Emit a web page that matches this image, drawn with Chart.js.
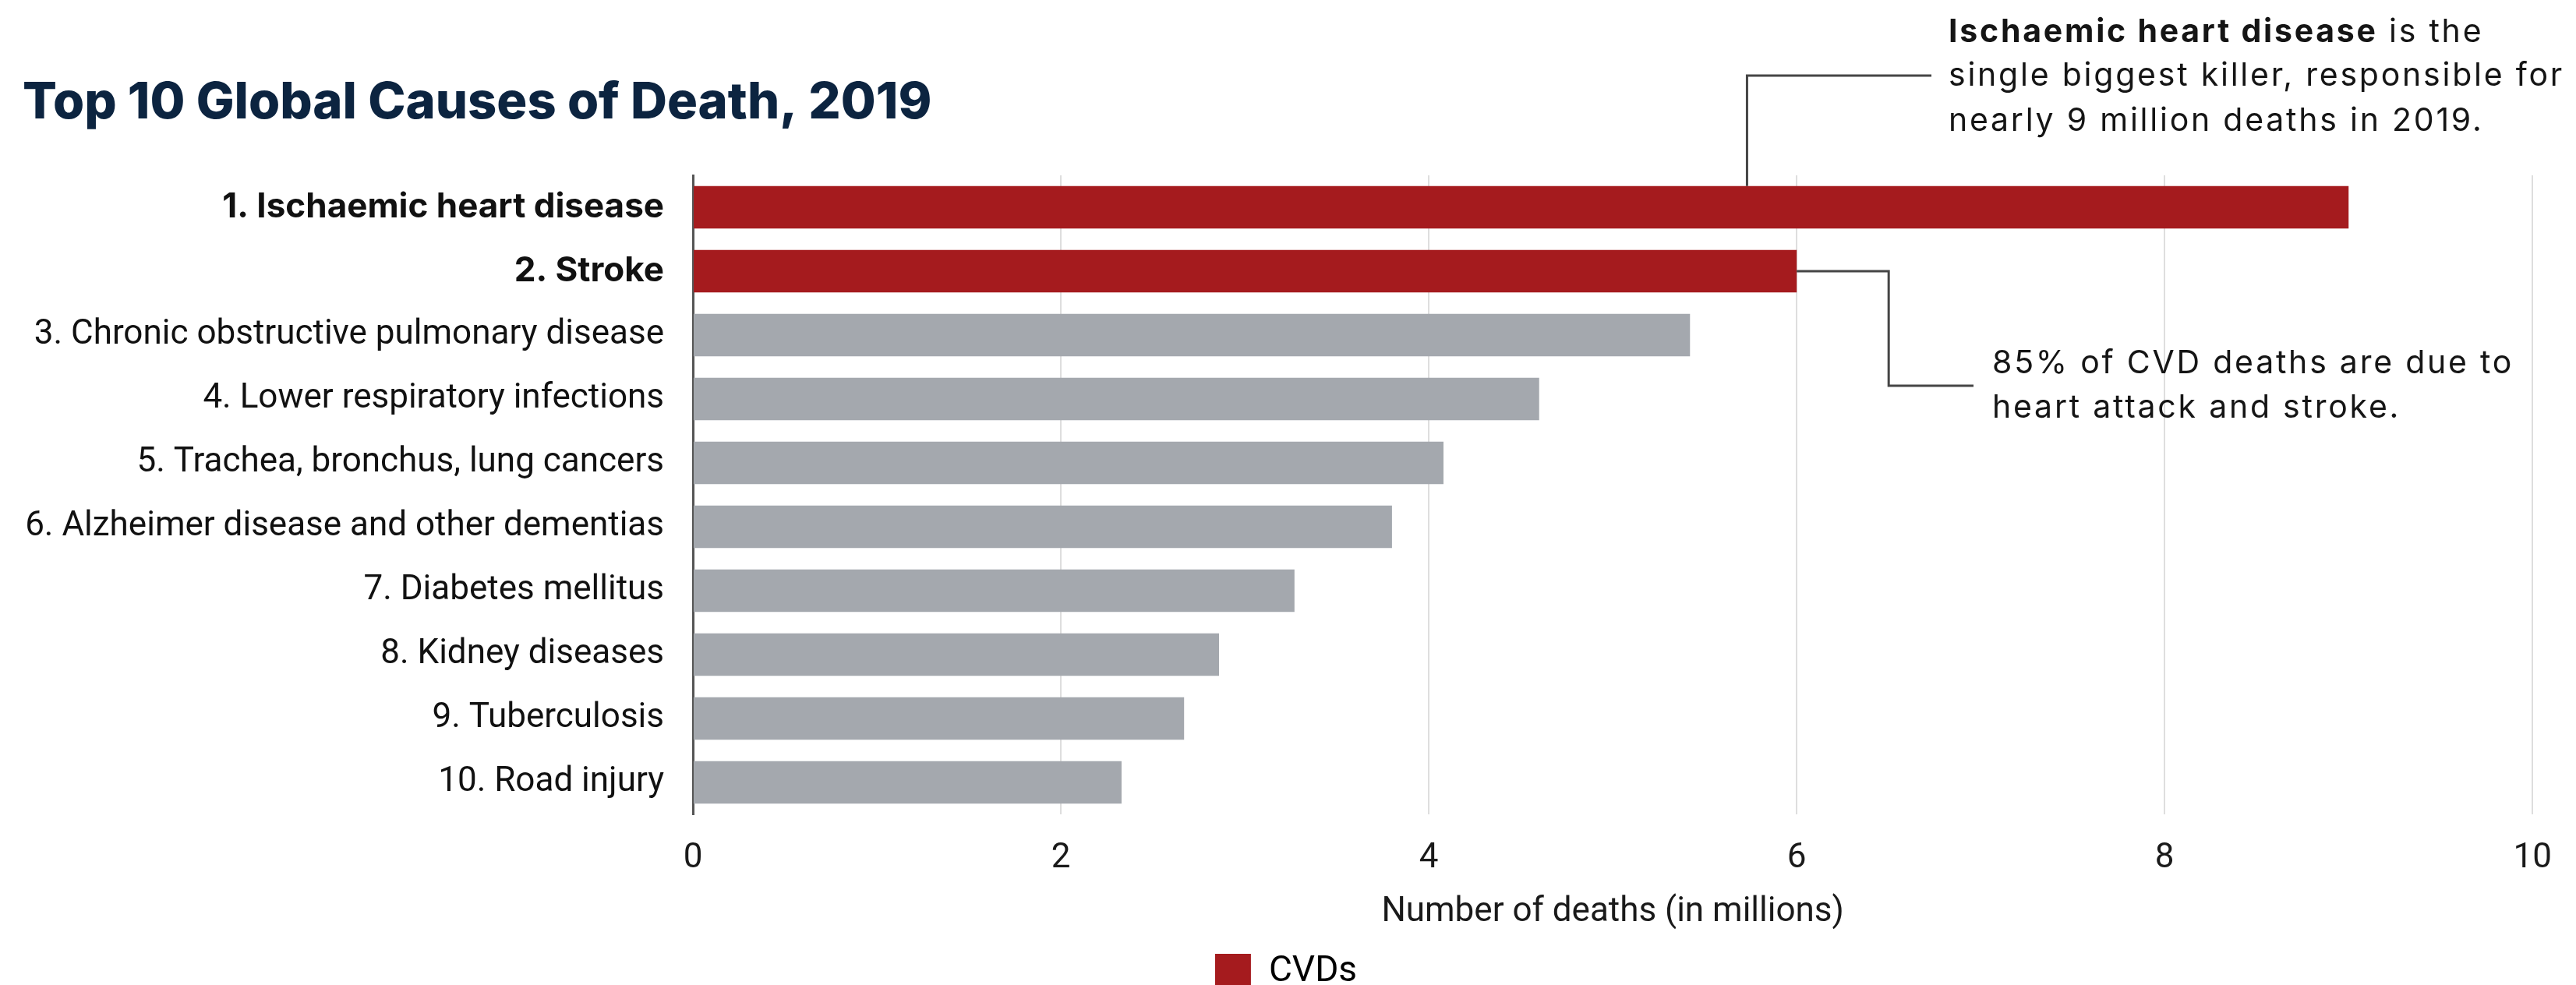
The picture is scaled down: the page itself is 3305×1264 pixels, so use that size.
<!DOCTYPE html>
<html>
<head>
<meta charset="utf-8">
<script src="https://cdn.jsdelivr.net/npm/chart.js@4.4.1/dist/chart.umd.min.js"></script>
<style>
  html, body { margin: 0; padding: 0; background: #fff; overflow: hidden; }
  #wrap { position: relative; width: 3305px; height: 1280px; }
</style>
</head>
<body>
<div id="wrap"><canvas id="chart"></canvas></div>
<script>
// Top 10 global causes of death, 2019 (millions of deaths)
const causes = [
  '1. Ischaemic heart disease',
  '2. Stroke',
  '3. Chronic obstructive pulmonary disease',
  '4. Lower respiratory infections',
  '5. Trachea, bronchus, lung cancers',
  '6. Alzheimer disease and other dementias',
  '7. Diabetes mellitus',
  '8. Kidney diseases',
  '9. Tuberculosis',
  '10. Road injury',
];
const deaths = [9.0, 6.0, 5.42, 4.6, 4.08, 3.8, 3.27, 2.86, 2.67, 2.33];
const isCvd  = [true, true, false, false, false, false, false, false, false, false];
const xTicks = [0, 2, 4, 6, 8, 10];

const RED  = '#a51b1e';
const GREY = '#a4a8ae';

const noteIhd = ['Ischaemic heart disease', ' is the', 'single biggest killer, responsible for', 'nearly 9 million deaths in 2019.'];
const noteCvd = ['85% of CVD deaths are due to', 'heart attack and stroke.'];

// leader lines + callout text, anchored to the bars
const annotations = {
  id: 'annotations',
  afterDraw(chart) {
    const { ctx } = chart;
    const x = chart.scales.x;
    const meta = chart.getDatasetMeta(0);
    const b1 = meta.data[0];
    const b2 = meta.data[1];
    ctx.save();
    ctx.strokeStyle = '#454545';
    ctx.lineWidth = 3;

    // callout 1: up from the top of bar 1, then right
    const lx = x.getPixelForValue(5.73);
    ctx.beginPath();
    ctx.moveTo(lx, b1.y - b1.height / 2);
    ctx.lineTo(lx, 97);
    ctx.lineTo(2478, 97);
    ctx.stroke();

    // callout 2: right from the end of bar 2, down, right
    const mx = x.getPixelForValue(6.5);
    ctx.beginPath();
    ctx.moveTo(b2.x, b2.y);
    ctx.lineTo(mx, b2.y);
    ctx.lineTo(mx, 495);
    ctx.lineTo(2532, 495);
    ctx.stroke();

    ctx.fillStyle = '#151515';
    ctx.textBaseline = 'middle';
    ctx.textAlign = 'left';
    const f = '41px Inter';
    const fb = 'bold 41px Inter';
    // loosen the tracking a bit so the widest line spans ~790px
    ctx.font = f;
    ctx.letterSpacing = '0px';
    const w0 = ctx.measureText(noteIhd[2]).width;
    const ls = Math.max(0, (790 - w0) / noteIhd[2].length);
    ctx.letterSpacing = ls.toFixed(2) + 'px';

    ctx.font = fb;
    ctx.fillText(noteIhd[0], 2500, 42);
    const w = ctx.measureText(noteIhd[0]).width;
    ctx.font = f;
    ctx.fillText(noteIhd[1], 2500 + w, 42);
    ctx.fillText(noteIhd[2], 2500, 98);
    ctx.fillText(noteIhd[3], 2500, 156);

    ctx.fillText(noteCvd[0], 2556, 467);
    ctx.fillText(noteCvd[1], 2556, 524);
    ctx.restore();
  }
};

new Chart(document.getElementById('chart').getContext('2d'), {
  type: 'bar',
  data: {
    labels: causes,
    datasets: [{
      label: 'CVDs',
      data: deaths,
      backgroundColor: isCvd.map((c) => (c ? RED : GREY)),
      borderWidth: 0,
      barPercentage: 0.664,
      categoryPercentage: 1.0,
    }],
  },
  options: {
    indexAxis: 'y',
    responsive: true,
    maintainAspectRatio: false,
    animation: false,
    layout: { padding: { left: 29, right: 34, top: 0, bottom: 0 } },
    plugins: {
      title: {
        display: true,
        text: 'Top 10 Global Causes of Death, 2019',
        align: 'start',
        color: '#0c2440',
        font: { family: 'Inter', size: 65, weight: '800' },
        padding: { top: 93, bottom: 54 },
      },
      legend: {
        position: 'bottom',
        labels: {
          boxWidth: 46,
          boxHeight: 46,
          padding: 17,
          color: '#222',
          font: { family: 'Roboto', size: 46 },
          generateLabels: () => [{
            text: 'CVDs', fillStyle: RED, strokeStyle: RED, lineWidth: 0, hidden: false, datasetIndex: 0,
          }],
        },
      },
      tooltip: { enabled: false },
    },
    scales: {
      x: {
        min: 0,
        max: 10,
        afterBuildTicks: (s) => { s.ticks = xTicks.map((v) => ({ value: v })); },
        afterFit: (s) => { s.height = 162; },
        grid: {
          color: (c) => (c.tick && c.tick.value === 0 ? 'rgba(0,0,0,0)' : '#dedede'),
          lineWidth: 2,
          drawTicks: false,
        },
        border: { display: false },
        ticks: { color: '#1a1a1a', padding: 31, font: { family: 'Roboto', size: 44 } },
        title: {
          display: true,
          text: 'Number of deaths (in millions)',
          color: '#1a1a1a',
          font: { family: 'Roboto', size: 44 },
          padding: { top: 0, bottom: 10 },
        },
      },
      y: {
        afterFit: (s) => { s.width = 889 - 29; },
        grid: { display: false, drawTicks: false },
        border: { display: true, color: '#555', width: 3 },
        ticks: {
          color: '#111',
          padding: 37,
          font: (c) => (c.index < 2
            ? { family: 'Inter', size: 44, weight: 'bold' }
            : { family: 'Roboto', size: 44, weight: 'normal' }),
        },
      },
    },
  },
  plugins: [annotations],
});
</script>
</body>
</html>
